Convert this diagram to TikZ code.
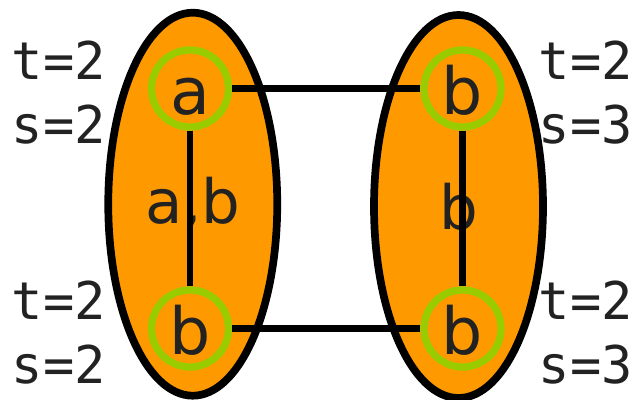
\documentclass[tikz,border=0pt]{standalone}
\usepackage{fontspec}
\usepackage{xcolor}
\usepackage{tikz}
\usetikzlibrary{shapes.geometric}
\newfontfamily\glyphfont{DejaVu Sans}
\newfontfamily\tagfont{DejaVu Sans Mono}
\definecolor{fillor}{HTML}{FF9900}
\definecolor{ringgr}{HTML}{99CC00}
\definecolor{ink}{HTML}{222222}

\begin{document}
\begin{tikzpicture}[x=1pt,y=-1pt,
  group/.style={ellipse,draw=black,fill=fillor,line width=7.7pt,minimum width=169pt,minimum height=383pt,inner sep=0pt,text=ink,font=\glyphfont\fontsize{61}{61}\selectfont},
  vert/.style={circle,draw=ringgr,line width=7.3pt,minimum size=77pt,inner sep=0pt,text=ink,text height=51pt,text depth=0pt,font=\glyphfont\fontsize{65}{65}\selectfont},
  link/.style={line width=6.5pt,black},
  tag/.style={text=ink,inner sep=0pt,align=left,font=\tagfont\fontsize{52}{63.3}\selectfont}]
\useasboundingbox (0,0) rectangle (636,399);
\node[group] (gl) at (192.75,204.2) {a,b};
\node[group] (gr) at (458.5,206.5) {b};
\node[vert] (la) at (190,88.5) {a};
\node[vert] (lb) at (190,328.5) {b};
\node[vert] (ra) at (462.5,88.5) {b};
\node[vert] (rb) at (462.5,328.5) {b};
\draw[link] (la) -- (ra);
\draw[link] (lb) -- (rb);
\draw[link] (la) -- (lb);
\draw[link] (ra) -- (rb);
\node[tag,anchor=east] (tla) at (106,92.7) {t=2\\s=2};
\node[tag,anchor=east] (tlb) at (106,332.7) {t=2\\s=2};
\node[tag,anchor=west] (tra) at (538.7,92.7) {t=2\\s=3};
\node[tag,anchor=west] (trb) at (538.7,332.7) {t=2\\s=3};
\end{tikzpicture}
\end{document}
